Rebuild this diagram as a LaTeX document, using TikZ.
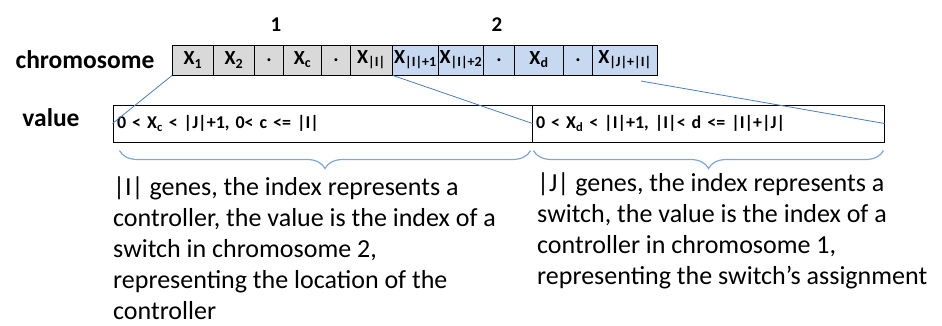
\documentclass[tikz,border=0pt]{standalone}
\usepackage{fontspec}
\setmainfont{Carlito}
\usetikzlibrary{decorations.pathreplacing}

\definecolor{genegray}{HTML}{D9D9D9}
\definecolor{geneblue}{HTML}{C6D9F1}
\definecolor{linkblue}{HTML}{4A7EBB}
\definecolor{braceblue}{HTML}{7EA6D8}

\tikzset{
  gene/.style={draw, line width=1pt, anchor=west, minimum height=30pt, inner sep=0pt,
    font=\fontsize{20}{20}\selectfont\bfseries},
  valuebox/.style={draw, line width=1pt, minimum height=37pt, inner xsep=4pt,
    align=left, font=\fontsize{18}{18}\selectfont\bfseries},
  link/.style={linkblue, line width=0.8pt},
  genebrace/.style={braceblue, line width=1.2pt, decorate,
    decoration={brace, mirror, amplitude=18pt}},
  note/.style={anchor=north west, inner sep=0pt, align=left,
    font=\fontsize{26}{31}\selectfont},
  heading/.style={font=\fontsize{25.5}{25.5}\selectfont\bfseries}
}

\begin{document}
\begin{tikzpicture}[x=1pt, y=-1pt]
  \useasboundingbox (0,0) rectangle (942,325);

  \node[heading] (chromlabel) at (85,60) {chromosome};
  \node[heading] (valuelabel) at (51,118) {value};
  \node[font=\fontsize{21}{21}\selectfont\bfseries] (part1) at (276,25) {1};
  \node[font=\fontsize{21}{21}\selectfont\bfseries] (part2) at (497,25) {2};

  % genes of both chromosomes, left edge / right edge / label / fill
  \foreach \l/\r/\txt/\col [count=\i] in {
      172/213/{X\textsubscript{1}}/genegray,
      213/254/{X\textsubscript{2}}/genegray,
      254/283/{.}/genegray,
      283/321/{X\textsubscript{c}}/genegray,
      321/350/{.}/genegray,
      350/392/{X\textsubscript{|I|}}/genegray,
      392/438/{X\textsubscript{|I|+1}}/geneblue,
      438/483/{X\textsubscript{|I|+2}}/geneblue,
      483/514/{.}/geneblue,
      514/563/{X\textsubscript{d}}/geneblue,
      563/592/{.}/geneblue,
      592/657/{X\textsubscript{|J|+|I|}}/geneblue}
    \node[gene, fill=\col, minimum width={(\r-\l)*1pt}] (g\i) at (\l,60) {\txt};

  % value ranges
  \node[valuebox, text width=411pt] (vleft) at (322.5,123.5)
    {0 < X\textsubscript{c} < |J|+1, 0< c <= |I|};
  \node[valuebox, text width=344pt] (vright) at (708,123.5)
    {0 < X\textsubscript{d} < |I|+1, |I|< d <= |I|+|J|};

  \coordinate (tail) at (641,81);
  \draw[link] (g1.south west) -- (vleft.west);
  \draw[link] (g6.south east) -- (vleft.east);
  \draw[link] (tail) -- (vright.east);

  \draw[genebrace] ([xshift=7pt, yshift=-8pt]vleft.south west)
    -- ([xshift=-2pt, yshift=-8pt]vleft.south east);
  \draw[genebrace] ([xshift=2pt, yshift=-8pt]vright.south west)
    -- ([xshift=-1pt, yshift=-8pt]vright.south east);

  \node[note] (leftnote) at (113,177) {|I| genes, the index represents a\\
    controller, the value is the index of a\\
    switch in chromosome 2,\\
    representing the location of the\\
    controller};
  \node[note] (rightnote) at (537,173) {|J| genes, the index represents a\\
    switch, the value is the index of a\\
    controller in chromosome 1,\\
    representing the switch’s assignment};
\end{tikzpicture}
\end{document}
